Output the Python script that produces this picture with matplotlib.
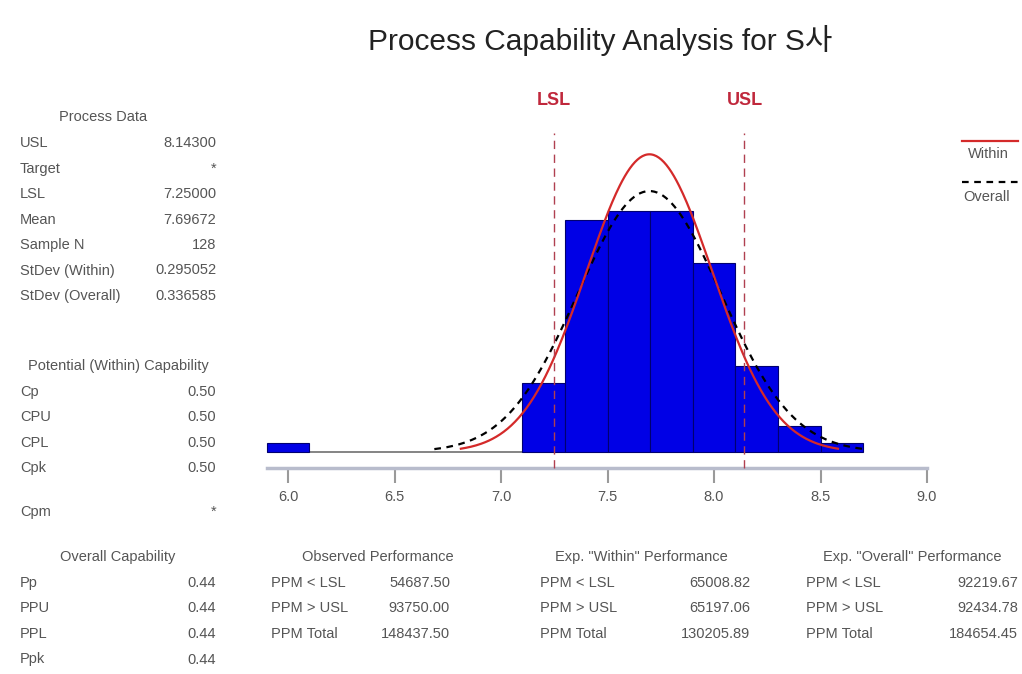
import numpy as np
import matplotlib
matplotlib.use('Agg')
import matplotlib.pyplot as plt
from matplotlib.lines import Line2D

plt.rcParams['font.family'] = ['Liberation Sans', 'Noto Sans CJK KR', 'DejaVu Sans']

# histogram data (bin left edges, counts), bin width 0.2
bin_left = [5.9, 7.1, 7.3, 7.5, 7.7, 7.9, 8.1, 8.3, 8.5]
counts = [1, 8, 27, 28, 28, 22, 10, 3, 1]
bin_width = 0.2

# process data
LSL = 7.25
USL = 8.143
mean = 7.69672
n_sample = 128
sd_within = 0.295052
sd_overall = 0.336585

x_ticks = [6.0, 6.5, 7.0, 7.5, 8.0, 8.5, 9.0]

process_labels = ['USL', 'Target', 'LSL', 'Mean', 'Sample N', 'StDev (Within)', 'StDev (Overall)']
process_values = ['8.14300', '*', '7.25000', '7.69672', '128', '0.295052', '0.336585']

within_labels = ['Cp', 'CPU', 'CPL', 'Cpk']
within_values = ['0.50', '0.50', '0.50', '0.50']

overall_labels = ['Pp', 'PPU', 'PPL', 'Ppk']
overall_values = ['0.44', '0.44', '0.44', '0.44']

ppm_labels = ['PPM < LSL', 'PPM > USL', 'PPM Total']
observed_ppm = ['54687.50', '93750.00', '148437.50']
exp_within_ppm = ['65008.82', '65197.06', '130205.89']
exp_overall_ppm = ['92219.67', '92434.78', '184654.45']

W, H = 1022, 674
fig = plt.figure(figsize=(W / 100, H / 100), dpi=100)

def fx(px):
    return px / W

def fy(py):
    return 1 - py / H

txt_color = '#555555'
fs = 10.5

# main histogram axes
ax = fig.add_axes([fx(260), fy(500), 680 / W, 370 / H])
ax.bar(bin_left, counts, width=bin_width, align='edge', color='#0000e6',
       edgecolor='#000070', linewidth=0.8, zorder=2)
ax.hlines(0, 5.9, 8.7, color='#707070', linewidth=1.2, zorder=1)

def normal_curve(sd):
    xs = np.linspace(mean - 3 * sd, mean + 3 * sd, 300)
    ys = n_sample * bin_width * np.exp(-0.5 * ((xs - mean) / sd) ** 2) / (sd * np.sqrt(2 * np.pi))
    return xs, ys

xo, yo = normal_curve(sd_overall)
ax.plot(xo, yo, color='black', linestyle=(0, (3, 2.5)), linewidth=1.6, zorder=3)
xw, yw = normal_curve(sd_within)
ax.plot(xw, yw, color='#d42a2a', linewidth=1.6, zorder=4)

axis_y = -1.86
ax.vlines([LSL, USL], axis_y, 37.1, color='#b04050', linestyles=(0, (6, 4)),
          linewidth=1.0, zorder=5)
ax.text(LSL, 40.9, 'LSL', color='#c0283c', fontsize=13, fontweight='bold',
        ha='center', va='center', clip_on=False)
ax.text(USL, 40.9, 'USL', color='#c0283c', fontsize=13, fontweight='bold',
        ha='center', va='center', clip_on=False)

ax.set_xlim(5.8685, 9.061)
ax.set_ylim(-5.58, 37.44)
for s in ['left', 'right', 'top']:
    ax.spines[s].set_visible(False)
ax.spines['bottom'].set_position(('data', axis_y))
ax.spines['bottom'].set_bounds(5.9, 9.0)
ax.spines['bottom'].set_color('#b8bccc')
ax.spines['bottom'].set_linewidth(2.5)
ax.set_yticks([])
ax.set_xticks(x_ticks)
ax.set_xticklabels(['%.1f' % t for t in x_ticks])
ax.tick_params(axis='x', direction='out', length=11, width=1.5, color='#9a9a9a',
               labelcolor=txt_color, labelsize=fs, pad=5)

# title
fig.text(fx(600), fy(40), 'Process Capability Analysis for S사', fontsize=21.5,
         ha='center', va='center', color='#222222')

# legend
fig.add_artist(Line2D([fx(962), fx(1018)], [fy(141), fy(141)], color='#d42a2a', linewidth=1.6))
fig.text(fx(988), fy(154), 'Within', fontsize=fs, ha='center', va='center', color=txt_color)
fig.add_artist(Line2D([fx(962), fx(1018)], [fy(182), fy(182)], color='black',
                      linewidth=1.6, linestyle=(0, (3, 2.5))))
fig.text(fx(987), fy(197), 'Overall', fontsize=fs, ha='center', va='center', color=txt_color)

# left panel: process data
fig.text(fx(103), fy(117), 'Process Data', fontsize=fs, ha='center', va='center', color=txt_color)
for i, (lab, val) in enumerate(zip(process_labels, process_values)):
    y = 143 + i * 25.5
    fig.text(fx(20), fy(y), lab, fontsize=fs, ha='left', va='center', color=txt_color)
    fig.text(fx(216), fy(y), val, fontsize=fs, ha='right', va='center', color=txt_color)

fig.text(fx(118), fy(366), 'Potential (Within) Capability', fontsize=fs, ha='center',
         va='center', color=txt_color)
for i, (lab, val) in enumerate(zip(within_labels, within_values)):
    y = 392 + i * 25.3
    fig.text(fx(20), fy(y), lab, fontsize=fs, ha='left', va='center', color=txt_color)
    fig.text(fx(216), fy(y), val, fontsize=fs, ha='right', va='center', color=txt_color)
fig.text(fx(20), fy(512), 'Cpm', fontsize=fs, ha='left', va='center', color=txt_color)
fig.text(fx(216), fy(512), '*', fontsize=fs, ha='right', va='center', color=txt_color)

# bottom: overall capability
fig.text(fx(118), fy(557), 'Overall Capability', fontsize=fs, ha='center', va='center', color=txt_color)
for i, (lab, val) in enumerate(zip(overall_labels, overall_values)):
    y = 583 + i * 25.5
    fig.text(fx(20), fy(y), lab, fontsize=fs, ha='left', va='center', color=txt_color)
    fig.text(fx(216), fy(y), val, fontsize=fs, ha='right', va='center', color=txt_color)

# bottom: performance tables
tables = [
    ('Observed Performance', observed_ppm, 378, 271, 450),
    ('Exp. "Within" Performance', exp_within_ppm, 641, 540, 750),
    ('Exp. "Overall" Performance', exp_overall_ppm, 912, 806, 1018),
]
for head, vals, hx, lx, vx in tables:
    fig.text(fx(hx), fy(557), head, fontsize=fs, ha='center', va='center', color=txt_color)
    for i, (lab, val) in enumerate(zip(ppm_labels, vals)):
        y = 583 + i * 25.5
        fig.text(fx(lx), fy(y), lab, fontsize=fs, ha='left', va='center', color=txt_color)
        fig.text(fx(vx), fy(y), val, fontsize=fs, ha='right', va='center', color=txt_color)

fig.savefig('out.png', dpi=100, facecolor='white')
